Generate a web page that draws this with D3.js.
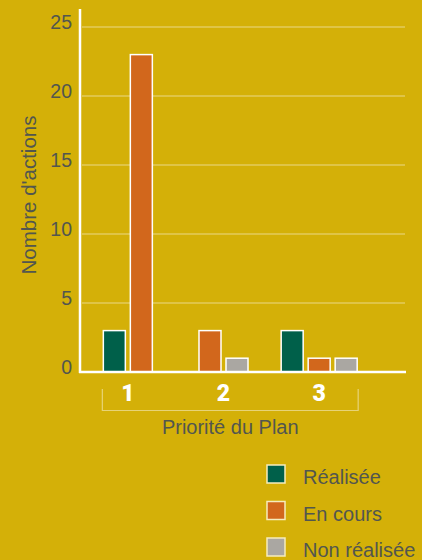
<!DOCTYPE html>
<html>
<head>
<meta charset="utf-8">
<script src="https://cdn.jsdelivr.net/npm/d3@7"></script>
<style>
  html, body { margin: 0; padding: 0; background: #d4b008; }
  svg { display: block; font-family: "Liberation Sans", Arial, sans-serif; }
</style>
</head>
<body>
<script>
// data
const priorities = ["1", "2", "3"];
const series = ["Réalisée", "En cours", "Non réalisée"];
const realisee = [3, 0, 3];
const enCours = [23, 3, 1];
const nonRealisee = [0, 1, 1];
const yTicks = [0, 5, 10, 15, 20, 25];

const colors = ["#00604a", "#d2671c", "#aaa7a2"];
const values = [realisee, enCours, nonRealisee];

const width = 422, height = 560;
const plotLeft = 80, plotRight = 405, plotTop = 27, plotBottom = 372;
const textColor = "#52564f";

const svg = d3.select("body").append("svg")
    .attr("width", width)
    .attr("height", height);

svg.append("rect")
    .attr("width", width).attr("height", height)
    .attr("fill", "#d4b008");

const y = d3.scaleLinear().domain([0, 25]).range([plotBottom, plotTop]);
const x = d3.scaleBand().domain(priorities).range([plotLeft, 367]);

// gridlines
svg.append("g")
  .selectAll("line")
  .data(yTicks.filter(d => d > 0))
  .join("line")
    .attr("x1", plotLeft + 2).attr("x2", plotRight)
    .attr("y1", d => y(d)).attr("y2", d => y(d))
    .attr("stroke", "#ffffff")
    .attr("stroke-opacity", 0.35)
    .attr("stroke-width", 1.5);

// y axis labels
const yAxis = svg.append("g")
    .attr("transform", `translate(${plotLeft},0)`)
    .call(d3.axisLeft(y).tickValues(yTicks).tickSize(0).tickPadding(8));
yAxis.select(".domain").remove();
yAxis.selectAll("text")
    .attr("dy", "0.1em")
    .attr("fill", textColor)
    .style("font-size", "19.5px")
    .style("font-family", "'Liberation Sans', Arial, sans-serif");

// bars: zero values are left out and the rest centred in the group
const step = 27, barW = 22;
function groupBars(i) {
  const keys = series.map((s, j) => j).filter(j => values[j][i] > 0);
  const inner = d3.scaleBand().domain(keys)
      .range([-keys.length * step / 2, keys.length * step / 2])
      .paddingInner((step - barW) / step).paddingOuter((step - barW) / step / 2);
  const cx = x(priorities[i]) + x.bandwidth() / 2;
  return keys.map(j => ({
    x: cx + inner(j), w: inner.bandwidth(), v: values[j][i], c: colors[j]
  }));
}
const bars = priorities.flatMap((p, i) => groupBars(i));

svg.append("g")
  .selectAll("rect")
  .data(bars)
  .join("rect")
    .attr("x", d => d.x)
    .attr("y", d => y(d.v))
    .attr("width", d => d.w)
    .attr("height", d => y(0) - y(d.v))
    .attr("fill", d => d.c)
    .attr("stroke", "#ffffff")
    .attr("stroke-width", 1.5);

// axis lines
svg.append("line")
    .attr("x1", plotLeft).attr("x2", plotLeft)
    .attr("y1", 9).attr("y2", plotBottom + 1)
    .attr("stroke", "#fff").attr("stroke-width", 2.5);
svg.append("line")
    .attr("x1", plotLeft - 1).attr("x2", plotRight + 1)
    .attr("y1", plotBottom).attr("y2", plotBottom)
    .attr("stroke", "#fff").attr("stroke-width", 2.5);

// category labels
svg.append("g")
  .selectAll("text")
  .data(priorities)
  .join("text")
    .attr("x", d => x(d) + x.bandwidth() / 2)
    .attr("y", 401)
    .attr("text-anchor", "middle")
    .attr("fill", "#fff")
    .style("font-size", "23px")
    .style("font-weight", 900)
    .style("font-family", "Roboto, sans-serif")
    .text(d => d);

// bracket under the categories
const g1 = groupBars(0), g3 = groupBars(2);
const bx0 = g1[0].x - 1, bx1 = g3[g3.length - 1].x + g3[g3.length - 1].w + 1;
svg.append("path")
    .attr("d", `M${bx0},389V410.5H${bx1}V389`)
    .attr("fill", "none")
    .attr("stroke", "#ffffff")
    .attr("stroke-opacity", 0.45)
    .attr("stroke-width", 1.2);

svg.append("text")
    .attr("x", (bx0 + bx1) / 2)
    .attr("y", 434)
    .attr("text-anchor", "middle")
    .attr("fill", textColor)
    .style("font-size", "20px")
    .text("Priorité du Plan");

svg.append("text")
    .attr("transform", "translate(36,195) rotate(-90)")
    .attr("text-anchor", "middle")
    .attr("fill", textColor)
    .style("font-size", "20.5px")
    .text("Nombre d'actions");

// legend
const legend = svg.append("g")
  .selectAll("g")
  .data(series)
  .join("g")
    .attr("transform", (d, i) => `translate(267,${465 + i * 36.5})`);
legend.append("rect")
    .attr("width", 18).attr("height", 18)
    .attr("fill", (d, i) => colors[i])
    .attr("stroke", "#f6ecbc")
    .attr("stroke-width", 1.5);
legend.append("text")
    .attr("x", 36).attr("y", 9).attr("dy", "0.5em")
    .attr("fill", textColor)
    .style("font-size", "20px")
    .text(d => d);
</script>
</body>
</html>
